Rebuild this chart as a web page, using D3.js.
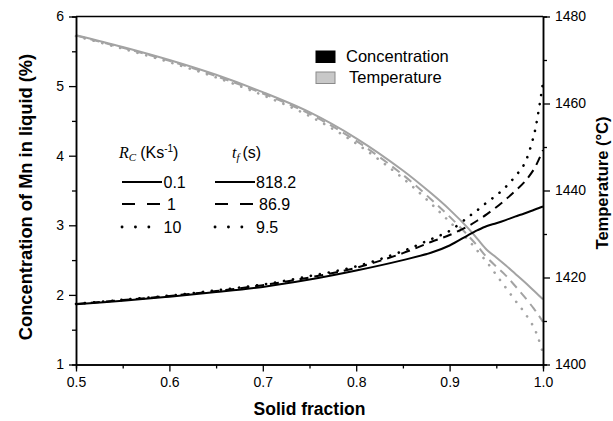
<!DOCTYPE html>
<html>
<head>
<meta charset="utf-8">
<script src="https://cdn.jsdelivr.net/npm/d3@7"></script>
<style>
  html, body { margin: 0; padding: 0; background: #fff; }
  svg { display: block; font-family: "Liberation Sans", Arial, sans-serif; }
</style>
</head>
<body>
<svg id="chart" width="613" height="421"></svg>
<script>
// Solid fraction grid shared by every curve
const solidFraction = [0.5, 0.55, 0.6, 0.65, 0.7, 0.75, 0.8, 0.85, 0.88, 0.9, 0.92, 0.93, 0.94, 0.95, 0.96, 0.97, 0.98, 0.99, 0.995, 1.0];

// Mn concentration in liquid (%) for each cooling rate
const concRc01 = [1.865, 1.915, 1.975, 2.04, 2.115, 2.22, 2.35, 2.50, 2.605, 2.71, 2.86, 2.93, 2.99, 3.03, 3.075, 3.125, 3.17, 3.22, 3.245, 3.27];
const concRc1  = [1.87, 1.925, 1.985, 2.055, 2.14, 2.25, 2.39, 2.60, 2.76, 2.86, 2.99, 3.07, 3.16, 3.26, 3.37, 3.49, 3.62, 3.80, 3.93, 4.08];
const concRc10 = [1.87, 1.93, 1.99, 2.065, 2.15, 2.27, 2.41, 2.63, 2.80, 2.92, 3.12, 3.22, 3.33, 3.43, 3.55, 3.70, 3.88, 4.28, 4.62, 5.05];

// Temperature (°C) for each cooling rate
const tempRc01 = [1475.7, 1473.0, 1470.0, 1466.6, 1462.6, 1458.0, 1452.0, 1444.6, 1439.4, 1435.6, 1431.3, 1428.8, 1426.3, 1424.6, 1422.8, 1420.9, 1419.0, 1417.0, 1416.0, 1415.0];
const tempRc1  = [1475.6, 1472.8, 1469.8, 1466.3, 1462.3, 1457.6, 1451.4, 1443.6, 1438.0, 1434.0, 1429.6, 1427.2, 1424.6, 1422.5, 1420.5, 1418.1, 1415.6, 1412.9, 1411.4, 1409.8];
const tempRc10 = [1475.5, 1472.6, 1469.5, 1466.0, 1461.9, 1457.1, 1450.8, 1442.8, 1437.0, 1432.8, 1428.6, 1426.1, 1423.5, 1420.6, 1417.7, 1414.8, 1412.0, 1408.6, 1406.0, 1402.5];

// Legend entries: cooling rate and matching local solidification time
const coolingRates = ["0.1", "1", "10"];
const solidTimes = ["818.2", "86.9", "9.5"];

// Tick values
const xTicks = [0.5, 0.6, 0.7, 0.8, 0.9, 1.0];
const xMinorTicks = [0.55, 0.65, 0.75, 0.85, 0.95];
const yLeftTicks = [1, 2, 3, 4, 5, 6];
const yLeftMinorTicks = [1.5, 2.5, 3.5, 4.5, 5.5];
const yRightTicks = [1400, 1420, 1440, 1460, 1480];
const yRightMinorTicks = [1410, 1430, 1450, 1470];

const svg = d3.select("#chart");
const plot = { left: 76, right: 543, top: 16.5, bottom: 364.5 };

const x = d3.scaleLinear().domain([0.5, 1.0]).range([plot.left, plot.right]);
const yL = d3.scaleLinear().domain([1, 6]).range([plot.bottom, plot.top]);
const yR = d3.scaleLinear().domain([1400, 1480]).range([plot.bottom, plot.top]);

const styles = [
  { dash: null, cap: "butt" },
  { dash: "9,6", cap: "butt" },
  { dash: "0.1,9", cap: "round" }
];

const gray = "#a3a3a3";

// Curves
function drawCurve(values, yScale, color, style) {
  const line = d3.line()
    .x((d, i) => x(solidFraction[i]))
    .y(d => yScale(d))
    .curve(d3.curveCatmullRom.alpha(0.5));
  const p = svg.append("path")
    .attr("d", line(values))
    .attr("fill", "none")
    .attr("stroke", color)
    .attr("stroke-width", style.cap === "round" ? 2.6 : 2)
    .attr("stroke-linecap", style.cap);
  if (style.dash) p.attr("stroke-dasharray", style.dash);
}

[tempRc01, tempRc1, tempRc10].forEach((v, i) => drawCurve(v, yR, gray, styles[i]));
[concRc01, concRc1, concRc10].forEach((v, i) => drawCurve(v, yL, "#000", styles[i]));

// Axes
function styleAxis(g) {
  g.selectAll("path").attr("stroke", "#000").attr("stroke-width", 1.5);
  g.selectAll("line").attr("stroke", "#000").attr("stroke-width", 1.3);
  g.selectAll("text").attr("font-size", 14).attr("fill", "#000")
    .attr("font-family", "'Liberation Sans', Arial, sans-serif");
}

const fmt1 = d3.format(".1f");

svg.append("g")
  .attr("transform", `translate(0,${plot.bottom})`)
  .call(d3.axisBottom(x).tickValues(xMinorTicks).tickSize(4).tickFormat(""))
  .call(styleAxis);
svg.append("g")
  .attr("transform", `translate(0,${plot.bottom})`)
  .call(d3.axisBottom(x).tickValues(xTicks).tickSize(7).tickSizeOuter(0).tickPadding(6).tickFormat(fmt1))
  .call(styleAxis);

svg.append("g")
  .attr("transform", `translate(${plot.left},0)`)
  .call(d3.axisLeft(yL).tickValues(yLeftMinorTicks).tickSize(4).tickFormat(""))
  .call(styleAxis);
svg.append("g")
  .attr("transform", `translate(${plot.left},0)`)
  .call(d3.axisLeft(yL).tickValues(yLeftTicks).tickSize(7).tickSizeOuter(0).tickPadding(5).tickFormat(d3.format("d")))
  .call(styleAxis);

svg.append("g")
  .attr("transform", `translate(${plot.right},0)`)
  .call(d3.axisRight(yR).tickValues(yRightMinorTicks).tickSize(4).tickFormat(""))
  .call(styleAxis);
svg.append("g")
  .attr("transform", `translate(${plot.right},0)`)
  .call(d3.axisRight(yR).tickValues(yRightTicks).tickSize(7).tickSizeOuter(0).tickPadding(5).tickFormat(d3.format("d")))
  .call(styleAxis);

// Top frame line
svg.append("line")
  .attr("x1", plot.left).attr("x2", plot.right)
  .attr("y1", plot.top).attr("y2", plot.top)
  .attr("stroke", "#000").attr("stroke-width", 1.5);

// Axis titles
svg.append("text")
  .attr("x", (plot.left + plot.right) / 2).attr("y", 415)
  .attr("text-anchor", "middle")
  .attr("font-size", 17.5).attr("font-weight", "bold")
  .text("Solid fraction");

svg.append("text")
  .attr("transform", `translate(32,197) rotate(-90)`)
  .attr("text-anchor", "middle")
  .attr("font-size", 18.3).attr("font-weight", "bold")
  .text("Concentration of Mn in liquid (%)");

svg.append("text")
  .attr("transform", `translate(608,183) rotate(-90)`)
  .attr("text-anchor", "middle")
  .attr("font-size", 16.5).attr("font-weight", "bold")
  .text("Temperature (°C)");

// Series-type legend
const typeLegend = [
  { label: "Concentration", fill: "#000", stroke: "#000", y: 51, tx: 346 },
  { label: "Temperature", fill: "#c8c8c8", stroke: "#8a8a8a", y: 72, tx: 349 }
];
typeLegend.forEach(d => {
  svg.append("rect")
    .attr("x", 316).attr("y", d.y).attr("width", 19).attr("height", 11.5)
    .attr("fill", d.fill).attr("stroke", d.stroke).attr("stroke-width", 1);
  svg.append("text")
    .attr("x", d.tx).attr("y", d.y + 10.5)
    .attr("font-size", 16.5)
    .text(d.label);
});

// Cooling-rate / solidification-time legend
const hdr1 = svg.append("text").attr("x", 119).attr("y", 158).attr("font-size", 16);
hdr1.append("tspan").attr("font-family", "'Liberation Serif', serif").attr("font-style", "italic").text("R");
hdr1.append("tspan").attr("font-family", "'Liberation Serif', serif").attr("font-style", "italic")
  .attr("font-size", 11).attr("dy", 3).text("C");
hdr1.append("tspan").attr("dy", -3).attr("dx", 4).text("(Ks");
hdr1.append("tspan").attr("font-size", 10).attr("dy", -6).text("-1");
hdr1.append("tspan").attr("dy", 6).text(")");

const hdr2 = svg.append("text").attr("x", 232).attr("y", 158).attr("font-size", 16);
hdr2.append("tspan").attr("font-family", "'Liberation Serif', serif").attr("font-style", "italic").text("t");
hdr2.append("tspan").attr("font-family", "'Liberation Serif', serif").attr("font-style", "italic")
  .attr("font-size", 11).attr("dy", 3).text("f");
hdr2.append("tspan").attr("dy", -3).attr("dx", 3).text("(s)");

const legendStyles = [
  { dash: null, cap: "butt", w: 2 },
  { dash: "13,12", cap: "butt", w: 2.2 },
  { dash: "0.1,13.3", cap: "round", w: 2.8 }
];
const rowY = [182, 204, 227];
coolingRates.forEach((rc, i) => {
  const st = legendStyles[i];
  [[122, 162], [215, 255]].forEach(([a, b]) => {
    const l = svg.append("line")
      .attr("x1", a).attr("x2", b).attr("y1", rowY[i]).attr("y2", rowY[i])
      .attr("stroke", "#000").attr("stroke-width", st.w).attr("stroke-linecap", st.cap);
    if (st.dash) l.attr("stroke-dasharray", st.dash);
  });
  svg.append("text").attr("x", i === 1 ? 167 : 163.5).attr("y", rowY[i] + 5.5)
    .attr("font-size", 16).text(rc);
  svg.append("text").attr("x", i === 1 ? 259 : 256).attr("y", rowY[i] + 5.5)
    .attr("font-size", 16).text(solidTimes[i]);
});
</script>
</body>
</html>
